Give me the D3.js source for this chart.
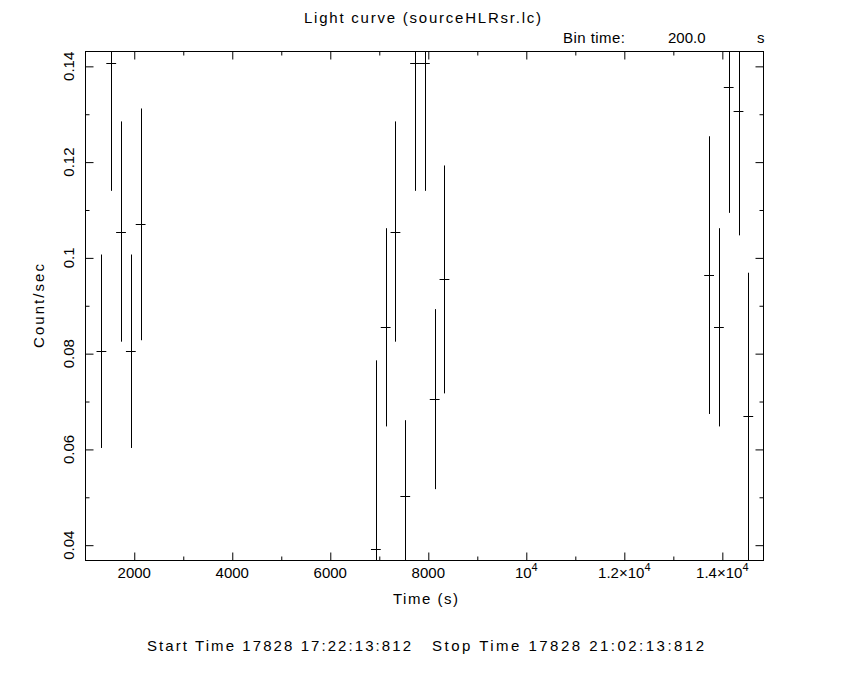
<!DOCTYPE html>
<html>
<head>
<meta charset="utf-8">
<script src="https://cdn.jsdelivr.net/npm/d3@7"></script>
<style>
  body { margin: 0; background: #fff; }
  text { font-family: "Liberation Sans", Arial, sans-serif; fill: #000; }
</style>
</head>
<body>
<script>
// light curve bins (time in s, rate in count/sec, 1-sigma error)
const times = [1330, 1530, 1730, 1930, 2130,
    6930, 7130, 7330, 7530, 7730, 7930, 8130, 8330,
    13730, 13930, 14130, 14330, 14530];
const rates = [0.0805, 0.1406, 0.1055, 0.0805, 0.107,
    0.0393, 0.0855, 0.1055, 0.0503, 0.1406, 0.1406, 0.0705, 0.0955,
    0.0964, 0.0855, 0.1356, 0.1306, 0.0669];
const errors = [0.0202, 0.0266, 0.023, 0.0202, 0.0242,
    0.0393, 0.0207, 0.023, 0.0158, 0.0266, 0.0266, 0.0188, 0.0238,
    0.029, 0.0207, 0.0262, 0.0259, 0.030];
const binTime = 200;

const xTicks = [2000, 4000, 6000, 8000, 10000, 12000, 14000];
const xTickLabels = [["2000"], ["4000"], ["6000"], ["8000"], ["10", "4"], ["1.2\u00d710", "4"], ["1.4\u00d710", "4"]];
const xMinor = [3000, 5000, 7000, 9000, 11000, 13000];
const yTicks = [0.04, 0.06, 0.08, 0.1, 0.12, 0.14];
const yTickLabels = ["0.04", "0.06", "0.08", "0.1", "0.12", "0.14"];
const yMinor = [0.05, 0.07, 0.09, 0.11, 0.13];

const W = 850, H = 680;
const plotL = 85.5, plotR = 763.5, plotT = 51.5, plotB = 560.5;

const x = d3.scaleLinear().domain([1005, 14840]).range([plotL, plotR]);
const y = d3.scaleLinear().domain([0.0368, 0.1431]).range([plotB, plotT]);

const svg = d3.select("body").append("svg")
    .attr("width", W)
    .attr("height", H);

// ticks on all four sides, pointing inwards
function ticks(axisFn, scale, values, size, transform) {
    const g = svg.append("g")
        .attr("transform", transform)
        .call(axisFn(scale).tickValues(values).tickSize(size).tickFormat(""));
    g.select(".domain").remove();
    g.selectAll("line").attr("stroke", "#000").attr("stroke-width", 1);
    return g;
}
ticks(d3.axisBottom, x, xTicks, -8, `translate(0,${plotB})`);
ticks(d3.axisBottom, x, xMinor, -4, `translate(0,${plotB})`);
ticks(d3.axisTop, x, xTicks, -8, `translate(0,${plotT})`);
ticks(d3.axisTop, x, xMinor, -4, `translate(0,${plotT})`);
ticks(d3.axisLeft, y, yTicks, -8, `translate(${plotL},0)`);
ticks(d3.axisLeft, y, yMinor, -4, `translate(${plotL},0)`);
ticks(d3.axisRight, y, yTicks, -8, `translate(${plotR},0)`);
ticks(d3.axisRight, y, yMinor, -4, `translate(${plotR},0)`);

// frame
svg.append("rect")
    .attr("x", plotL).attr("y", plotT)
    .attr("width", plotR - plotL).attr("height", plotB - plotT)
    .attr("fill", "none").attr("stroke", "#000").attr("stroke-width", 1);

// x tick labels
const xl = svg.selectAll("text.xlab")
    .data(xTicks)
    .enter().append("text")
    .attr("class", "xlab")
    .attr("x", d => x(d))
    .attr("y", 578)
    .attr("text-anchor", "middle")
    .attr("font-size", 15);
xl.each(function(d, i) {
    const lab = xTickLabels[i];
    const t = d3.select(this);
    t.append("tspan").text(lab[0]);
    if (lab[1]) {
        t.append("tspan").attr("dy", -7).attr("font-size", 11).text(lab[1]);
    }
});

// y tick labels (rotated)
svg.selectAll("text.ylab")
    .data(yTicks)
    .enter().append("text")
    .attr("class", "ylab")
    .attr("transform", d => `translate(74,${y(d)}) rotate(-90)`)
    .attr("text-anchor", "middle")
    .attr("font-size", 15)
    .text((d, i) => yTickLabels[i]);

// error bars, clipped to the frame
svg.append("clipPath").attr("id", "plotclip")
    .append("rect")
    .attr("x", plotL).attr("y", plotT)
    .attr("width", plotR - plotL).attr("height", plotB - plotT);

const pts = svg.append("g").attr("clip-path", "url(#plotclip)");
const bins = times.map((t, i) => ({ t: t, r: rates[i], e: errors[i] }));

pts.selectAll("line.ey")
    .data(bins)
    .enter().append("line")
    .attr("class", "ey")
    .attr("x1", d => Math.round(x(d.t)) + 0.5)
    .attr("x2", d => Math.round(x(d.t)) + 0.5)
    .attr("y1", d => y(d.r - d.e))
    .attr("y2", d => y(d.r + d.e))
    .attr("stroke", "#000").attr("stroke-width", 1);

pts.selectAll("line.ex")
    .data(bins)
    .enter().append("line")
    .attr("class", "ex")
    .attr("x1", d => x(d.t - binTime / 2))
    .attr("x2", d => x(d.t + binTime / 2))
    .attr("y1", d => Math.round(y(d.r)) + 0.5)
    .attr("y2", d => Math.round(y(d.r)) + 0.5)
    .attr("stroke", "#000").attr("stroke-width", 1);

// titles (widths stretched to the wider plotting font of the original)
svg.append("text")
    .attr("x", 304).attr("y", 23)
    .attr("font-size", 15)
    .attr("textLength", 237)
    .attr("lengthAdjust", "spacing")
    .text("Light curve (sourceHLRsr.lc)");

svg.append("text").attr("x", 563).attr("y", 43).attr("font-size", 15)
    .attr("textLength", 62).attr("lengthAdjust", "spacing").text("Bin time:");
svg.append("text").attr("x", 668).attr("y", 43).attr("font-size", 15).text("200.0");
svg.append("text").attr("x", 757).attr("y", 43).attr("font-size", 15).text("s");

svg.append("text")
    .attr("x", 393).attr("y", 604)
    .attr("font-size", 15)
    .attr("textLength", 65)
    .attr("lengthAdjust", "spacing")
    .text("Time (s)");

svg.append("text")
    .attr("transform", `translate(44,${(plotT + plotB) / 2 + 42}) rotate(-90)`)
    .attr("font-size", 15)
    .attr("textLength", 84)
    .attr("lengthAdjust", "spacing")
    .text("Count/sec");

svg.append("text")
    .attr("x", 147).attr("y", 651)
    .attr("font-size", 15)
    .attr("textLength", 264)
    .attr("lengthAdjust", "spacing")
    .text("Start Time 17828 17:22:13:812");

svg.append("text")
    .attr("x", 432).attr("y", 651)
    .attr("font-size", 15)
    .attr("textLength", 272)
    .attr("lengthAdjust", "spacing")
    .text("Stop Time 17828 21:02:13:812");
</script>
</body>
</html>
